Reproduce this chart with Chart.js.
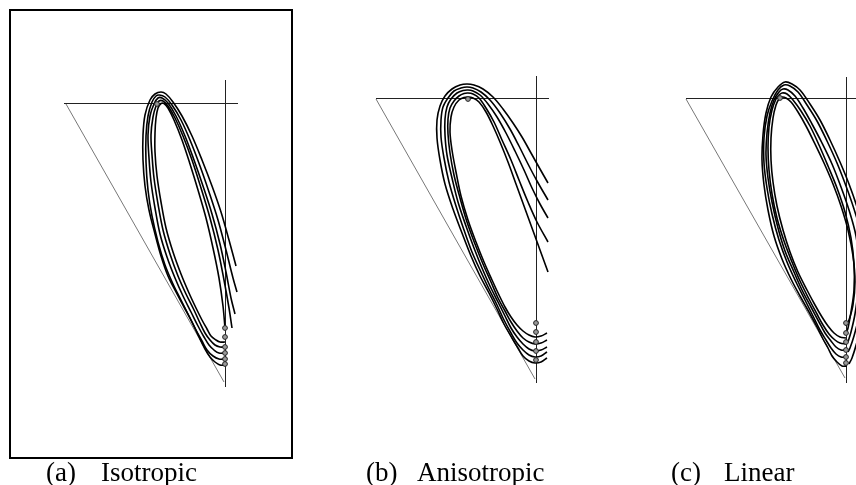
<!DOCTYPE html>
<html>
<head>
<meta charset="utf-8">
<script src="https://cdn.jsdelivr.net/npm/chart.js@4.4.0/dist/chart.umd.min.js"></script>
<style>
  body { margin: 0; background: #fff; }
  #wrap { position: relative; width: 856px; height: 485px; overflow: hidden; }
  #frame { position: absolute; left: 9px; top: 9px; width: 280px; height: 446px; border: 2px solid #000; }
  .cap { position: absolute; top: 457px; font-family: "Liberation Serif", serif; font-size: 27px; color: #000; white-space: nowrap; line-height: 31px; }
</style>
</head>
<body>
<div id="wrap">
  <canvas id="orbits" width="856" height="485"></canvas>
  <div id="frame"></div>
  <div class="cap" style="left:46px">(a)</div>
  <div class="cap" style="left:101px">Isotropic</div>
  <div class="cap" style="left:366px">(b)</div>
  <div class="cap" style="left:417px">Anisotropic</div>
  <div class="cap" style="left:671px">(c)</div>
  <div class="cap" style="left:724px">Linear</div>
</div>

<script>
// (a) Isotropic - guide lines
var isoHorizontal = [[64, 103.5], [238, 103.5]];
var isoVertical = [[225.5, 80], [225.5, 387]];
var isoDiagonal = [[66, 104], [224, 382]];
// (a) five orbits, from the start point at the bottom round to the end
var isoLoop0 = [[225,365],[220,365],[215,362],[210,357],[205,349],[199,337],[192,322],[184,307],[176,292],[168,276],[161,256],[155,234],[149,210],[145,186],[143,160],[143,135],[145,115],[150,100],[155,94],[161,92],[166,94],[173,102],[182,116],[192,136],[202,160],[212,186],[221,212],[229,240],[236,266]];
var isoLoop1 = [[225,359],[219,359],[213,356],[207,350],[202,341],[196,330],[189,316],[181,300],[173,284],[165,265],[158,242],[152,216],[148,190],[146,162],[146,136],[148,116],[152,102],[156,96],[159.5,95],[165,97],[172,105],[181,120],[190,140],[200,166],[209,192],[218,220],[226,250],[233,278],[237,292]];
var isoLoop2 = [[225,353],[219,353],[214,350],[209,345],[204,337],[198,326],[191,312],[183,296],[175,278],[167,257],[160,234],[155,208],[151,182],[149,158],[148,135],[150,116],[154,104],[158,98],[162,98],[168,103],[176,116],[185,136],[194,160],[203,186],[212,214],[220,244],[226,272],[231,298],[235,314]];
var isoLoop3 = [[225,347],[220,347],[215,345],[210,340],[205,333],[200,323],[194,310],[186,294],[178,276],[170,254],[163,230],[158,204],[154,178],[152,155],[151,135],[153,117],[156,106],[159,101],[163,101],[168,106],[175,118],[183,136],[192,160],[201,188],[210,218],[218,250],[224,280],[229,308],[232,328]];
var isoLoop4 = [[225,342],[220,342],[216,340],[211,336],[207,329],[202,320],[196,308],[189,293],[181,274],[173,252],[166,228],[161,202],[157,176],[155,152],[155,133],[156,118],[158,108],[161,103.5],[164,103.5],[168,108],[174,120],[182,140],[190,164],[198,190],[206,218],[213,248],[219,278],[223,306],[225,328]];
var isoStarts = [[225,328],[225,337],[225,347],[225,353],[225,359],[225,364],[157,104]];

// (b) Anisotropic
var anisoHorizontal = [[376, 98.5], [549, 98.5]];
var anisoVertical = [[536.5, 76], [536.5, 383]];
var anisoDiagonal = [[376, 99], [535, 379]];
var anisoLoop0 = [[547,358],[541,362],[535,363],[529,361],[523,356],[518,348],[512,338],[504,324],[497,309],[489,293],[480,276],[471,256],[462,233],[453,209],[445,184],[440,160],[437,138],[437,120],[440,106],[445,96],[452,89],[460,85],[467,84],[474,85],[483,89],[493,97],[503,109],[513,123],[522,137],[531,153],[540,169],[548,183]];
var anisoLoop1 = [[547,352],[541,356],[535,357],[529,355],[523,350],[517,343],[511,333],[504,320],[497,305],[489,289],[481,272],[472,252],[464,230],[456,206],[449,182],[444,158],[441,137],[441,120],[443,107],[448,98],[454,91],[461,88],[467,87],[473,88],[481,92],[490,100],[500,113],[510,129],[519,146],[528,164],[537,181],[548,200]];
var anisoLoop2 = [[547,347],[541,350],[535,351],[529,349],[523,344],[517,337],[511,328],[505,316],[498,302],[490,286],[482,268],[474,248],[466,226],[458,202],[452,178],[447,155],[445,135],[445,119],[447,107],[451,99],[457,93],[463,90.5],[468,90],[473,91],[480,95],[488,104],[497,117],[506,133],[515,151],[524,170],[532,188],[540,204],[548,218]];
var anisoLoop3 = [[547,340],[541,343],[535,344],[529,342],[523,338],[517,331],[511,322],[505,311],[498,298],[491,282],[483,264],[475,244],[467,222],[460,198],[454,175],[450,153],[448,134],[448,119],[450,108],[454,101],[459,96],[464,93.5],[468,93],[473,94],[479,98],[486,108],[494,122],[502,140],[511,160],[519,180],[528,202],[537,222],[548,242]];
var anisoLoop4 = [[547,333],[541,336],[535,337],[529,335],[523,331],[517,325],[511,317],[505,307],[499,295],[492,280],[484,262],[476,242],[468,220],[461,196],[456,172],[452,150],[450,132],[451,117],[454,107],[459,100],[464,97.5],[468,97],[473,98],[479,102],[486,112],[493,126],[500,142],[508,162],[516,184],[524,206],[532,228],[540,250],[548,272]];
var anisoStarts = [[536,323],[536,332],[536,342],[536,351],[536,360],[468,99]];

// (c) Linear
var linHorizontal = [[686, 98.5], [860, 98.5]];
var linVertical = [[846.5, 77], [846.5, 383]];
var linDiagonal = [[686, 99], [845, 378]];
var linLoop0 = [[847,366],[842,366],[837,362],[832,356],[828,348],[823,339],[817,327],[809,312],[800,296],[791,279],[782,259],[774,236],[768,210],[764,185],[762,160],[763,135],[766,113],[771,97],[778,87],[785,82],[792,84],[800,90],[810,104],[820,120],[830,140],[840,162],[849,184],[857,207],[864,232],[868,260],[867,290],[863,318],[857,342],[852,358],[849,364]];
var linLoop1 = [[846,357],[841,357],[836,354],[831,348],[826,340],[820,330],[813,316],[805,300],[796,282],[787,262],[779,240],[772,214],[767,188],[764,163],[764,138],[767,116],[772,101],[778,90],[784,85],[790,86],[798,92],[807,105],[817,121],[827,141],[837,163],[846,186],[854,209],[861,234],[864,262],[863,290],[859,316],[854,336],[850,348],[848,352]];
var linLoop2 = [[846,350],[841,350],[836,347],[831,341],[825,333],[819,322],[811,307],[802,290],[794,272],[785,251],[778,228],[772,202],[768,178],[766,155],[767,133],[770,113],[774,100],[779,92],[783,89],[788,90],[795,96],[803,108],[812,124],[822,143],[832,164],[841,187],[849,210],[856,236],[859,263],[858,290],[855,314],[851,332],[848,342]];
var linLoop3 = [[846,344],[840,343],[835,340],[829,334],[823,325],[817,314],[809,299],[800,281],[792,262],[784,241],[777,218],[772,194],[769,170],[768,148],[769,127],[772,110],[776,99],[779,95],[782,93],[787,94],[793,100],[801,111],[810,126],[819,145],[828,166],[837,188],[845,212],[851,238],[854,264],[854,290],[851,312],[848,328],[846,334]];
var linLoop4 = [[846,338],[840,337],[834,333],[828,326],[822,317],[815,305],[807,290],[798,272],[790,252],[783,230],[777,206],[773,182],[771,160],[771,138],[773,118],[776,105],[779,99],[782,97],[786,98],[791,102],[798,112],[806,126],[815,144],[824,163],[833,184],[841,206],[848,230],[853,256],[855,282],[853,305],[849,320],[846,326]];
var linStarts = [[846,323],[846,333],[846,342],[846,350],[846,357],[846,363],[780,98]];

function pts(list) {
    return list.map(function (p) { return { x: p[0], y: p[1] }; });
}
function orbit(list) {
    return { data: pts(list), showLine: true, borderColor: '#000', borderWidth: 1.6, pointRadius: 0, tension: 0.35 };
}
function guide(list, color) {
    return { data: pts(list), showLine: true, borderColor: color, borderWidth: 1, pointRadius: 0, tension: 0 };
}
function starts(list) {
    return { data: pts(list), showLine: false, pointRadius: 2.4, pointBorderWidth: 1, pointBorderColor: '#222', pointBackgroundColor: '#999' };
}

// dataset 0 is drawn on top, so the start markers come first
var datasets = [
    starts(isoStarts), starts(anisoStarts), starts(linStarts),
    orbit(isoLoop0), orbit(isoLoop1), orbit(isoLoop2), orbit(isoLoop3), orbit(isoLoop4),
    orbit(anisoLoop0), orbit(anisoLoop1), orbit(anisoLoop2), orbit(anisoLoop3), orbit(anisoLoop4),
    orbit(linLoop0), orbit(linLoop1), orbit(linLoop2), orbit(linLoop3), orbit(linLoop4),
    guide(isoHorizontal, '#222'), guide(isoVertical, '#222'), guide(isoDiagonal, '#777'),
    guide(anisoHorizontal, '#222'), guide(anisoVertical, '#222'), guide(anisoDiagonal, '#777'),
    guide(linHorizontal, '#222'), guide(linVertical, '#222'), guide(linDiagonal, '#777')
];

var ctx = document.getElementById('orbits').getContext('2d');
new Chart(ctx, {
    type: 'scatter',
    data: { datasets: datasets },
    options: {
        responsive: false,
        animation: false,
        layout: { padding: 0, autoPadding: false },
        plugins: { legend: { display: false }, tooltip: { enabled: false } },
        scales: {
            x: { type: 'linear', min: 0, max: 856, display: false },
            y: { type: 'linear', min: 0, max: 485, reverse: true, display: false }
        }
    }
});
</script>
</body>
</html>
